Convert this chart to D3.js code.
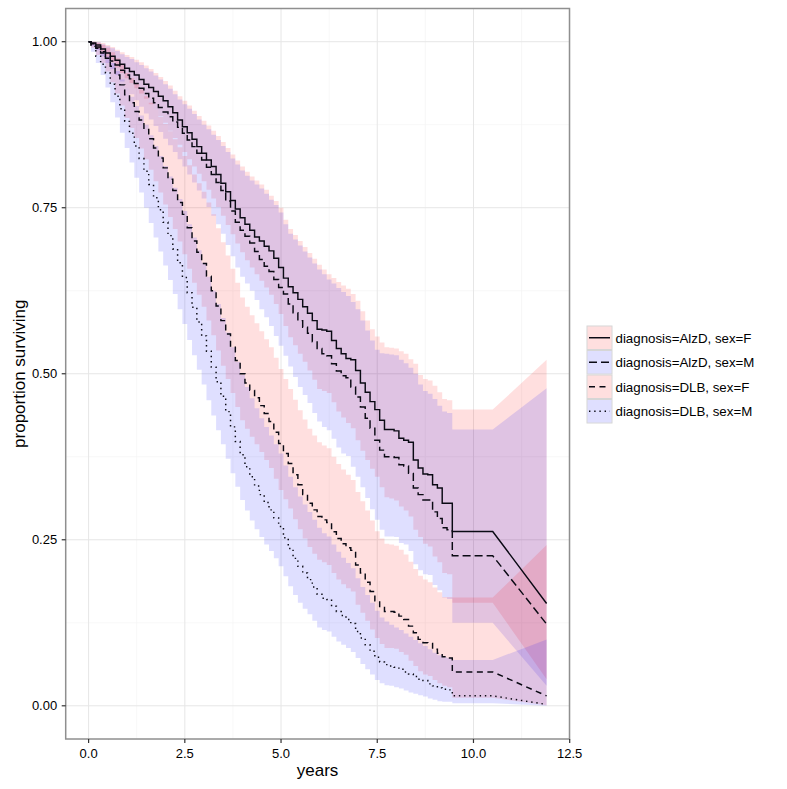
<!DOCTYPE html>
<html><head><meta charset="utf-8">
<script src="https://cdn.jsdelivr.net/npm/d3@7"></script>
<style>
body{margin:0;background:#fff}
text{font-family:"Liberation Sans",Arial,Helvetica,sans-serif;fill:#000}
</style>
</head><body>
<svg id="chart" width="787" height="789"></svg>
<script>
// ---- data (years; survival estimates and 95% CI bounds) ----
const times = [0, 0.0625, 0.1875, 0.3125, 0.4375, 0.5625, 0.6875, 0.8125,
  0.9375, 1.0625, 1.1875, 1.3125, 1.4375, 1.5625, 1.6875, 1.8125,
  1.9375, 2.0625, 2.1875, 2.3125, 2.4375, 2.5625, 2.6875, 2.8125,
  2.9375, 3.0625, 3.1875, 3.3125, 3.4375, 3.5625, 3.6875, 3.8125,
  3.9375, 4.0625, 4.1875, 4.3125, 4.4375, 4.5625, 4.6875, 4.8125,
  4.9375, 5.0625, 5.1875, 5.3125, 5.4375, 5.5625, 5.6875, 5.8125,
  5.9375, 6.0625, 6.1875, 6.3125, 6.4375, 6.5625, 6.6875, 6.8125,
  6.9375, 7.0625, 7.1875, 7.3125, 7.4375, 7.5625, 7.6875, 7.8125,
  7.9375, 8.0625, 8.1875, 8.3125, 8.4375, 8.5625, 8.6875, 8.8125,
  8.9375, 9.0625, 9.1875, 9.3125,
  9.45, 10.5, 11.9];

const groups = ["diagnosis=AlzD, sex=F", "diagnosis=AlzD, sex=M", "diagnosis=DLB, sex=F", "diagnosis=DLB, sex=M"];
const groupSex = ["F", "M", "F", "M"];

const alzF_est = [1.000, 0.998, 0.995, 0.989, 0.983, 0.978, 0.972, 0.966,
  0.960, 0.955, 0.950, 0.943, 0.936, 0.931, 0.925, 0.918,
  0.911, 0.902, 0.893, 0.882, 0.872, 0.863, 0.853, 0.842,
  0.832, 0.822, 0.812, 0.800, 0.787, 0.774, 0.761, 0.748,
  0.735, 0.725, 0.716, 0.706, 0.700, 0.692, 0.685, 0.674,
  0.660, 0.644, 0.631, 0.622, 0.612, 0.601, 0.591, 0.580,
  0.567, 0.566, 0.564, 0.550, 0.538, 0.530, 0.523, 0.521,
  0.505, 0.486, 0.472, 0.458, 0.446, 0.430, 0.416, 0.416,
  0.414, 0.403, 0.400, 0.397, 0.370, 0.358, 0.349, 0.348,
  0.333, 0.328, 0.305, 0.305,
  0.2625, 0.2625, 0.154];
const alzF_lo = [1.000, 0.995, 0.989, 0.983, 0.976, 0.969, 0.961, 0.953,
  0.945, 0.938, 0.930, 0.922, 0.914, 0.906, 0.898, 0.888,
  0.878, 0.866, 0.855, 0.845, 0.834, 0.823, 0.812, 0.801,
  0.790, 0.777, 0.764, 0.751, 0.738, 0.724, 0.710, 0.696,
  0.683, 0.671, 0.660, 0.650, 0.640, 0.630, 0.619, 0.605,
  0.590, 0.572, 0.555, 0.543, 0.530, 0.518, 0.505, 0.491,
  0.477, 0.474, 0.471, 0.457, 0.443, 0.434, 0.426, 0.418,
  0.400, 0.384, 0.370, 0.357, 0.345, 0.329, 0.314, 0.312,
  0.309, 0.300, 0.294, 0.285, 0.265, 0.254, 0.244, 0.240,
  0.225, 0.216, 0.200, 0.198,
  0.155, 0.155, 0.040];
const alzF_hi = [1.000, 1.000, 1.000, 0.998, 0.995, 0.992, 0.988, 0.984,
  0.980, 0.977, 0.973, 0.969, 0.964, 0.959, 0.953, 0.947,
  0.941, 0.934, 0.926, 0.918, 0.911, 0.904, 0.896, 0.888,
  0.881, 0.874, 0.866, 0.858, 0.849, 0.840, 0.830, 0.821,
  0.812, 0.804, 0.797, 0.791, 0.785, 0.777, 0.768, 0.760,
  0.750, 0.732, 0.718, 0.709, 0.700, 0.691, 0.682, 0.673,
  0.664, 0.657, 0.650, 0.644, 0.638, 0.633, 0.628, 0.620,
  0.610, 0.594, 0.580, 0.567, 0.556, 0.547, 0.540, 0.539,
  0.538, 0.534, 0.530, 0.522, 0.515, 0.498, 0.492, 0.490,
  0.482, 0.472, 0.462, 0.460,
  0.446, 0.446, 0.521];

const alzM_est = [1.000, 0.997, 0.992, 0.985, 0.978, 0.971, 0.965, 0.957,
  0.950, 0.944, 0.937, 0.930, 0.922, 0.915, 0.908, 0.901,
  0.894, 0.887, 0.879, 0.871, 0.862, 0.852, 0.842, 0.832,
  0.822, 0.811, 0.800, 0.788, 0.776, 0.760, 0.745, 0.728,
  0.716, 0.707, 0.697, 0.684, 0.672, 0.662, 0.654, 0.642,
  0.630, 0.620, 0.605, 0.592, 0.580, 0.570, 0.561, 0.548,
  0.538, 0.530, 0.527, 0.515, 0.504, 0.497, 0.494, 0.480,
  0.465, 0.450, 0.433, 0.418, 0.400, 0.385, 0.375, 0.375,
  0.374, 0.363, 0.361, 0.350, 0.328, 0.318, 0.310, 0.310,
  0.292, 0.282, 0.268, 0.265,
  0.226, 0.226, 0.123];
const alzM_lo = [1.000, 0.994, 0.987, 0.978, 0.968, 0.959, 0.950, 0.940,
  0.930, 0.921, 0.912, 0.902, 0.892, 0.883, 0.873, 0.864,
  0.854, 0.844, 0.834, 0.823, 0.812, 0.800, 0.788, 0.776,
  0.764, 0.751, 0.738, 0.725, 0.711, 0.694, 0.677, 0.660,
  0.646, 0.636, 0.625, 0.611, 0.597, 0.585, 0.572, 0.557,
  0.542, 0.527, 0.511, 0.495, 0.480, 0.468, 0.456, 0.441,
  0.428, 0.420, 0.415, 0.402, 0.389, 0.380, 0.376, 0.360,
  0.345, 0.329, 0.313, 0.296, 0.280, 0.265, 0.255, 0.255,
  0.254, 0.245, 0.243, 0.233, 0.213, 0.204, 0.198, 0.197,
  0.182, 0.174, 0.163, 0.161,
  0.125, 0.125, 0.030];
const alzM_hi = [1.000, 1.000, 0.999, 0.996, 0.993, 0.990, 0.986, 0.981,
  0.977, 0.974, 0.969, 0.965, 0.960, 0.955, 0.949, 0.943,
  0.936, 0.929, 0.921, 0.913, 0.906, 0.899, 0.891, 0.883,
  0.875, 0.868, 0.860, 0.852, 0.843, 0.834, 0.824, 0.815,
  0.806, 0.798, 0.791, 0.785, 0.779, 0.771, 0.762, 0.754,
  0.743, 0.725, 0.711, 0.702, 0.693, 0.684, 0.675, 0.666,
  0.657, 0.650, 0.642, 0.636, 0.629, 0.623, 0.617, 0.608,
  0.597, 0.580, 0.565, 0.550, 0.536, 0.531, 0.530, 0.529,
  0.528, 0.521, 0.516, 0.509, 0.500, 0.484, 0.474, 0.470,
  0.462, 0.452, 0.443, 0.441,
  0.416, 0.416, 0.478];

const dlbF_est = [1.000, 0.996, 0.990, 0.983, 0.975, 0.963, 0.950, 0.935,
  0.920, 0.908, 0.895, 0.882, 0.868, 0.854, 0.840, 0.825,
  0.810, 0.793, 0.776, 0.758, 0.740, 0.720, 0.700, 0.683,
  0.666, 0.647, 0.625, 0.602, 0.580, 0.560, 0.540, 0.520,
  0.500, 0.486, 0.475, 0.464, 0.452, 0.440, 0.428, 0.412,
  0.395, 0.380, 0.365, 0.348, 0.333, 0.318, 0.305, 0.295,
  0.285, 0.280, 0.276, 0.262, 0.252, 0.244, 0.238, 0.234,
  0.212, 0.200, 0.186, 0.172, 0.158, 0.148, 0.142, 0.142,
  0.141, 0.135, 0.130, 0.120, 0.110, 0.100, 0.095, 0.094,
  0.085, 0.079, 0.074, 0.072,
  0.051, 0.051, 0.015];
const dlbF_lo = [1.000, 0.991, 0.980, 0.968, 0.955, 0.939, 0.922, 0.904,
  0.885, 0.870, 0.855, 0.839, 0.823, 0.807, 0.790, 0.773,
  0.755, 0.736, 0.718, 0.699, 0.680, 0.658, 0.637, 0.619,
  0.601, 0.580, 0.558, 0.535, 0.512, 0.492, 0.471, 0.450,
  0.430, 0.417, 0.405, 0.394, 0.382, 0.370, 0.358, 0.342,
  0.325, 0.311, 0.297, 0.281, 0.266, 0.252, 0.239, 0.229,
  0.220, 0.216, 0.212, 0.200, 0.190, 0.183, 0.177, 0.172,
  0.152, 0.140, 0.128, 0.115, 0.102, 0.093, 0.087, 0.087,
  0.086, 0.081, 0.077, 0.068, 0.060, 0.052, 0.047, 0.045,
  0.039, 0.034, 0.030, 0.028,
  0.012, 0.012, 0.001];
const dlbF_hi = [1.000, 1.000, 0.998, 0.995, 0.991, 0.984, 0.975, 0.965,
  0.953, 0.945, 0.937, 0.928, 0.918, 0.908, 0.898, 0.887,
  0.876, 0.865, 0.853, 0.841, 0.828, 0.814, 0.800, 0.787,
  0.774, 0.758, 0.740, 0.719, 0.698, 0.678, 0.658, 0.637,
  0.615, 0.601, 0.588, 0.576, 0.564, 0.552, 0.540, 0.524,
  0.507, 0.492, 0.477, 0.461, 0.445, 0.431, 0.417, 0.407,
  0.397, 0.392, 0.388, 0.375, 0.364, 0.356, 0.348, 0.340,
  0.322, 0.308, 0.294, 0.279, 0.263, 0.252, 0.244, 0.243,
  0.241, 0.235, 0.228, 0.217, 0.206, 0.196, 0.190, 0.186,
  0.178, 0.171, 0.164, 0.164,
  0.163, 0.163, 0.242];

const dlbM_est = [1.000, 0.993, 0.978, 0.966, 0.953, 0.936, 0.918, 0.899,
  0.880, 0.862, 0.843, 0.824, 0.805, 0.785, 0.765, 0.747,
  0.728, 0.708, 0.688, 0.667, 0.645, 0.622, 0.600, 0.578,
  0.557, 0.534, 0.510, 0.488, 0.466, 0.443, 0.420, 0.398,
  0.378, 0.360, 0.345, 0.331, 0.318, 0.306, 0.295, 0.283,
  0.270, 0.253, 0.237, 0.222, 0.210, 0.200, 0.190, 0.179,
  0.168, 0.162, 0.160, 0.150, 0.142, 0.136, 0.130, 0.124,
  0.112, 0.102, 0.092, 0.082, 0.073, 0.066, 0.062, 0.060,
  0.058, 0.055, 0.051, 0.048, 0.044, 0.040, 0.038, 0.033,
  0.030, 0.027, 0.025, 0.024,
  0.015, 0.015, 0.002];
const dlbM_lo = [1.000, 0.985, 0.968, 0.950, 0.931, 0.909, 0.886, 0.863,
  0.840, 0.818, 0.795, 0.773, 0.750, 0.727, 0.705, 0.684,
  0.663, 0.641, 0.620, 0.597, 0.575, 0.551, 0.528, 0.506,
  0.484, 0.460, 0.437, 0.415, 0.394, 0.372, 0.350, 0.330,
  0.310, 0.294, 0.279, 0.266, 0.254, 0.243, 0.233, 0.222,
  0.210, 0.195, 0.180, 0.167, 0.155, 0.146, 0.138, 0.128,
  0.118, 0.114, 0.112, 0.104, 0.097, 0.092, 0.087, 0.081,
  0.072, 0.063, 0.055, 0.047, 0.039, 0.034, 0.031, 0.030,
  0.028, 0.026, 0.023, 0.020, 0.018, 0.016, 0.014, 0.011,
  0.009, 0.007, 0.006, 0.006,
  0.004, 0.004, 0.000];
const dlbM_hi = [1.000, 0.997, 0.990, 0.985, 0.978, 0.968, 0.956, 0.943,
  0.930, 0.917, 0.903, 0.889, 0.875, 0.859, 0.843, 0.828,
  0.813, 0.797, 0.780, 0.763, 0.745, 0.725, 0.705, 0.686,
  0.667, 0.646, 0.625, 0.605, 0.584, 0.562, 0.540, 0.518,
  0.498, 0.480, 0.463, 0.448, 0.433, 0.420, 0.407, 0.394,
  0.380, 0.362, 0.345, 0.329, 0.315, 0.303, 0.292, 0.280,
  0.268, 0.260, 0.255, 0.243, 0.232, 0.223, 0.215, 0.207,
  0.192, 0.179, 0.167, 0.155, 0.143, 0.133, 0.127, 0.122,
  0.118, 0.114, 0.109, 0.104, 0.099, 0.094, 0.090, 0.085,
  0.080, 0.076, 0.073, 0.072,
  0.069, 0.069, 0.100];

const xTicks = [0, 2.5, 5, 7.5, 10, 12.5];
const yTicks = [0, 0.25, 0.5, 0.75, 1];
const xMinor = [1.25, 3.75, 6.25, 8.75, 11.25];
const yMinor = [0.125, 0.375, 0.625, 0.875];

// ---- styles ----
const sexFill = {F: "rgba(255,0,0,0.125)", M: "rgba(0,0,255,0.125)"};
const dashes = ["none", "8,4", "6,4.5", "1.4,3.8"];
const lineCol = "#0a0a14";

const series = [
  {est: alzF_est, lo: alzF_lo, hi: alzF_hi},
  {est: alzM_est, lo: alzM_lo, hi: alzM_hi},
  {est: dlbF_est, lo: dlbF_lo, hi: dlbF_hi},
  {est: dlbM_est, lo: dlbM_lo, hi: dlbM_hi}
];

const svg = d3.select("#chart");
const P = {l: 65.7, r: 569.5, t: 8.5, b: 739};
const x = d3.scaleLinear().domain([-0.595, 12.495]).range([P.l, P.r]);
const y = d3.scaleLinear().domain([-0.05, 1.05]).range([P.b, P.t]);

svg.append("rect").attr("x", P.l).attr("y", P.t).attr("width", P.r - P.l).attr("height", P.b - P.t).attr("fill", "#fff");

const g = svg.append("g");
g.selectAll(".mx").data(xMinor).join("line").attr("x1", d => x(d)).attr("x2", d => x(d)).attr("y1", P.t).attr("y2", P.b).attr("stroke", "#f3f3f3").attr("stroke-width", 0.7);
g.selectAll(".my").data(yMinor).join("line").attr("x1", P.l).attr("x2", P.r).attr("y1", d => y(d)).attr("y2", d => y(d)).attr("stroke", "#f3f3f3").attr("stroke-width", 0.7);
g.selectAll(".Mx").data(xTicks).join("line").attr("x1", d => x(d)).attr("x2", d => x(d)).attr("y1", P.t).attr("y2", P.b).attr("stroke", "#e6e6e6").attr("stroke-width", 1);
g.selectAll(".My").data(yTicks).join("line").attr("x1", P.l).attr("x2", P.r).attr("y1", d => y(d)).attr("y2", d => y(d)).attr("stroke", "#e6e6e6").attr("stroke-width", 1);

// step points: horizontal then vertical; last segment straight
function stepPts(vals) {
  const n = Math.min(times.length, vals.length), p = [];
  for (let i = 0; i < n - 1; i++) {
    p.push([times[i], vals[i]]);
    if (i < n - 2) p.push([times[i + 1], vals[i]]);
  }
  p.push([times[n - 1], vals[n - 1]]);
  return p;
}

const area = d3.area().x(d => x(d[0])).y0(d => y(d[1])).y1(d => y(d[2]));
const line = d3.line().x(d => x(d[0])).y(d => y(d[1]));

series.forEach((s, k) => {
  const lo = stepPts(s.lo), hi = stepPts(s.hi);
  const pts = lo.map((d, i) => [d[0], d[1], hi[i] ? hi[i][1] : d[1]]);
  svg.append("path").attr("d", area(pts)).attr("fill", sexFill[groupSex[k]]).attr("stroke", "none");
});
series.forEach((s, k) => {
  svg.append("path").attr("d", line(stepPts(s.est))).attr("fill", "none")
    .attr("stroke", lineCol).attr("stroke-width", 1.45)
    .attr("stroke-dasharray", dashes[k]);
});

svg.append("rect").attr("x", P.l).attr("y", P.t).attr("width", P.r - P.l).attr("height", P.b - P.t)
  .attr("fill", "none").attr("stroke", "#8f8f8f").attr("stroke-width", 1.5);

const ax = svg.append("g");
ax.selectAll(".xt").data(xTicks).join("line").attr("x1", d => x(d)).attr("x2", d => x(d)).attr("y1", P.b).attr("y2", P.b + 4).attr("stroke", "#333").attr("stroke-width", 1.2);
ax.selectAll(".xl").data(xTicks).join("text").attr("x", d => x(d)).attr("y", P.b + 19).attr("text-anchor", "middle").attr("font-size", 13).text(d => d3.format(".1f")(d));
ax.selectAll(".yt").data(yTicks).join("line").attr("x1", P.l - 4).attr("x2", P.l).attr("y1", d => y(d)).attr("y2", d => y(d)).attr("stroke", "#333").attr("stroke-width", 1.2);
ax.selectAll(".yl").data(yTicks).join("text").attr("x", P.l - 8.5).attr("y", d => y(d)).attr("dy", "0.36em").attr("text-anchor", "end").attr("font-size", 13).text(d => d3.format(".2f")(d));

svg.append("text").attr("x", (P.l + P.r) / 2).attr("y", 776).attr("text-anchor", "middle").attr("font-size", 17).text("years");
svg.append("text").attr("transform", `translate(25,${(P.t + P.b) / 2}) rotate(-90)`).attr("text-anchor", "middle").attr("font-size", 17).text("proportion surviving");

const lg = svg.append("g").attr("transform", "translate(587,326)");
const rowH = 24.5;
groups.forEach((name, k) => {
  const row = lg.append("g").attr("transform", `translate(0,${k * rowH})`);
  row.append("rect").attr("x", 0).attr("y", 0).attr("width", 25).attr("height", 23.5).attr("fill", "#fff").attr("stroke", "#d6d6d6").attr("stroke-width", 1);
  row.append("rect").attr("x", 0.5).attr("y", 0.5).attr("width", 24).attr("height", 22.5).attr("fill", sexFill[groupSex[k]]);
  row.append("line").attr("x1", 2).attr("x2", 23).attr("y1", 11.75).attr("y2", 11.75).attr("stroke", lineCol).attr("stroke-width", 1.45).attr("stroke-dasharray", dashes[k]);
  row.append("text").attr("x", 28.5).attr("y", 11.75).attr("dy", "0.36em").attr("font-size", 13.3).text(name);
});
</script>
</body></html>
